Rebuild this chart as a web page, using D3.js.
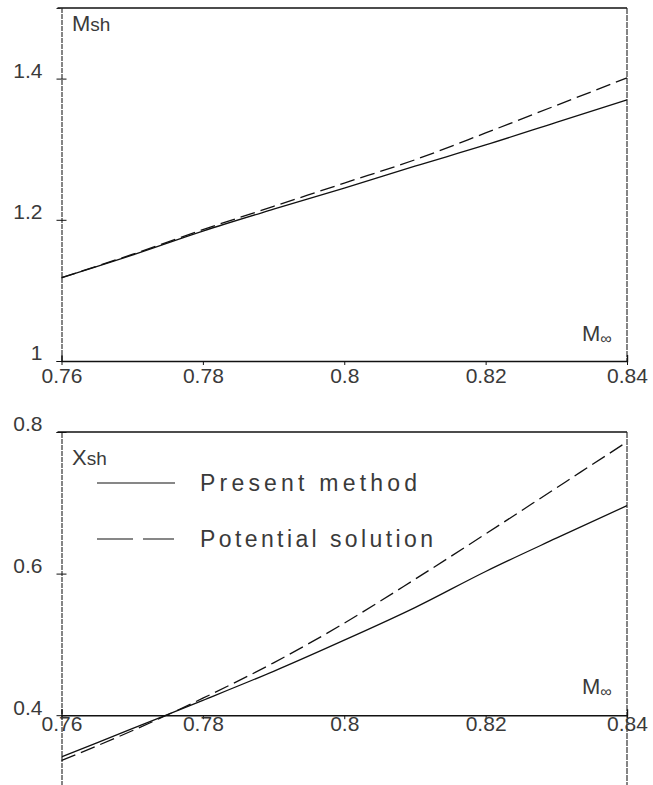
<!DOCTYPE html>
<html>
<head>
<meta charset="utf-8">
<script src="https://cdn.jsdelivr.net/npm/d3@7"></script>
<style>
body { margin: 0; background: #fff; }
svg { display: block; }
text { font-family: "Liberation Sans", Arial, sans-serif; fill: #3a3a3a; }
</style>
</head>
<body>
<div id="chart"></div>
<script>
// data
var mach = [0.76, 0.77, 0.78, 0.79, 0.80, 0.81, 0.82, 0.83, 0.84];
var msh_present = [1.118, 1.150, 1.184, 1.215, 1.245, 1.276, 1.306, 1.338, 1.370];
var msh_potential = [1.118, 1.151, 1.186, 1.219, 1.252, 1.285, 1.323, 1.362, 1.401];
var xsh_present = [0.341, 0.381, 0.421, 0.462, 0.506, 0.552, 0.603, 0.650, 0.696];
var xsh_potential = [0.336, 0.378, 0.424, 0.474, 0.530, 0.592, 0.656, 0.721, 0.786];

var xticks = [0.76, 0.78, 0.8, 0.82, 0.84];
var yticks_top = [1, 1.2, 1.4];
var yticks_bottom = [0.4, 0.6, 0.8];
var legend_labels = ["Present method", "Potential solution"];

var width = 653;
var height = 785;
var svg = d3.select("#chart").append("svg").attr("width", width).attr("height", height);

var x = d3.scaleLinear().domain([0.76, 0.84]).range([61.5, 627]);
var ytop = d3.scaleLinear().domain([1, 1.5]).range([361, 8]);
var ybot = d3.scaleLinear().domain([0.3, 0.8]).range([786, 432]);

function fmt(d) { return String(d); }

function panel(y, y0, ytickvals, solid, dashed, ylab, ylabY, mlabY, xlabDy) {
    var g = svg.append("g");
    var top = y.range()[1];
    var bottom = y.range()[0];

    // frame: top line, right line
    g.append("line").attr("x1", x.range()[0] - 4).attr("x2", x.range()[1]).attr("y1", top).attr("y2", top)
        .attr("stroke", "#111").attr("stroke-width", 1.3);
    g.append("line").attr("x1", x.range()[1]).attr("x2", x.range()[1]).attr("y1", top).attr("y2", bottom)
        .attr("stroke", "#222").attr("stroke-width", 1.1).attr("stroke-dasharray", "6,1");

    // left axis
    var ya = d3.axisLeft(y).tickValues(ytickvals).tickFormat(fmt).tickSize(5).tickPadding(14);
    var yg = g.append("g").attr("transform", "translate(" + x.range()[0] + ",0)").call(ya);
    yg.select(".domain").attr("stroke", "#222").attr("stroke-width", 1.1).attr("stroke-dasharray", "5,1");
    yg.selectAll(".tick line").attr("x1", 5).attr("stroke", "#111");
    yg.selectAll(".tick text").attr("font-size", 21).attr("dy", "-0.05em").style("fill", "#3a3a3a");

    // bottom axis placed at y0
    var xa = d3.axisBottom(x).tickValues(xticks).tickFormat(fmt).tickSize(-6).tickPadding(0);
    var xg = g.append("g").attr("transform", "translate(0," + y(y0) + ")").call(xa);
    xg.select(".domain").attr("stroke", "#111").attr("stroke-width", 1.4);
    xg.selectAll(".tick line").attr("y2", 4).attr("stroke", "#111");
    xg.selectAll(".tick text").attr("font-size", 21).attr("dy", xlabDy).style("fill", "#3a3a3a");

    var line = d3.line().x(function(d, i) { return x(mach[i]); }).y(function(d) { return y(d); })
        .curve(d3.curveMonotoneX);
    g.append("path").datum(solid).attr("d", line).attr("fill", "none")
        .attr("stroke", "#111").attr("stroke-width", 1.3);
    g.append("path").datum(dashed).attr("d", line).attr("fill", "none")
        .attr("stroke", "#111").attr("stroke-width", 1.3).attr("stroke-dasharray", "15,6");

    // axis titles
    var t = g.append("text").attr("x", 72).attr("y", ylabY).attr("font-size", 22);
    t.append("tspan").text(ylab[0]);
    t.append("tspan").attr("font-size", 19).text(ylab.slice(1));
    var m = g.append("text").attr("x", 582).attr("y", mlabY).attr("font-size", 22);
    m.append("tspan").text("M");
    m.append("tspan").attr("font-size", 16).attr("dy", 3).text("\u221e");
}

panel(ytop, 1, yticks_top, msh_present, msh_potential, "Msh", 31, 341, "1.05em");
panel(ybot, 0.4, yticks_bottom, xsh_present, xsh_potential, "Xsh", 465, 694, "0.75em");

// legend
var leg = svg.append("g");
leg.append("line").attr("x1", 97).attr("x2", 175).attr("y1", 483).attr("y2", 483)
    .attr("stroke", "#111").attr("stroke-width", 1.2);
leg.append("line").attr("x1", 97).attr("x2", 174).attr("y1", 539).attr("y2", 539)
    .attr("stroke", "#111").attr("stroke-width", 1.2).attr("stroke-dasharray", "36,10,31,100");
leg.selectAll("text.leg").data(legend_labels).enter().append("text").attr("class", "leg")
    .attr("x", 200).attr("y", function(d, i) { return 491 + i * 56; })
    .attr("font-size", 23)
    .attr("textLength", function(d, i) { return i === 0 ? 217 : 233; })
    .attr("lengthAdjust", "spacing")
    .text(function(d) { return d; });
</script>
</body>
</html>
